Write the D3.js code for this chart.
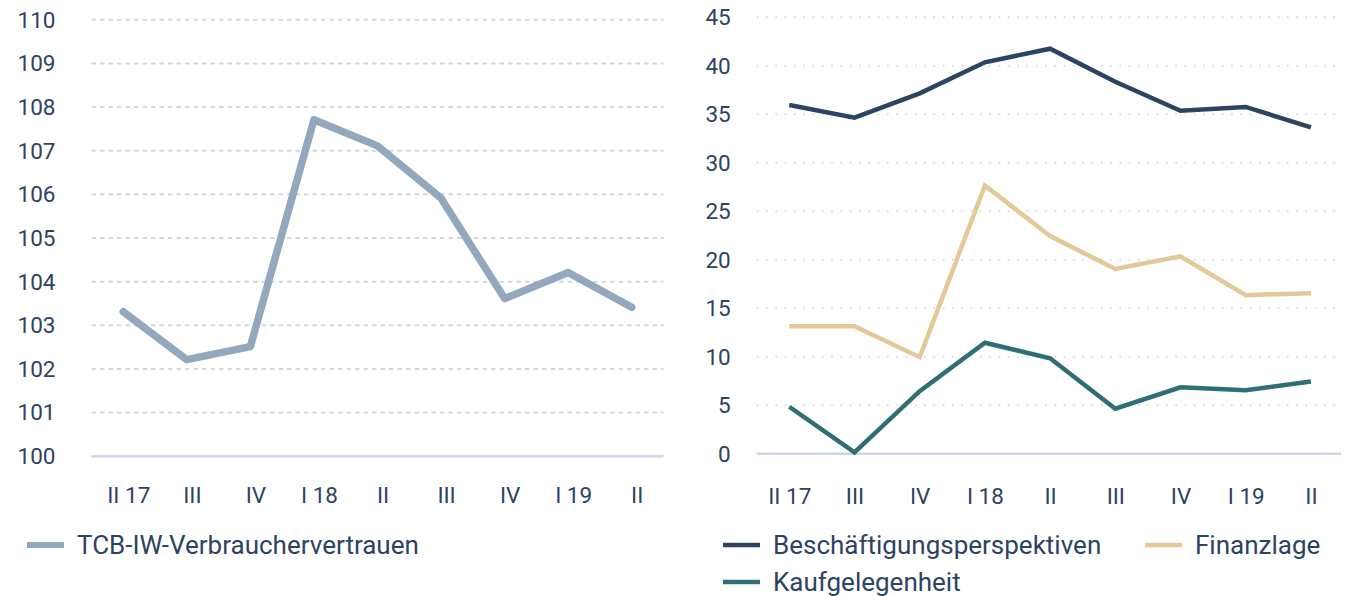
<!DOCTYPE html>
<html><head><meta charset="utf-8">
<script src="https://cdn.jsdelivr.net/npm/d3@7"></script>
<style>
html,body{margin:0;padding:0;background:#fff;}
svg{display:block;font-family:Roboto,"Noto Sans",sans-serif;}
</style></head>
<body>
<svg id="chart" width="1346" height="596"></svg>
<script>
const quarters = ["II 17","III","IV","I 18","II","III","IV","I 19","II"];
const leftTicks = [100,101,102,103,104,105,106,107,108,109,110];
const rightTicks = [0,5,10,15,20,25,30,35,40,45];
const vertrauen = [103.3,102.2,102.5,107.7,107.1,105.9,103.6,104.2,103.4];
const beschaeftigung = [35.9,34.6,37.1,40.3,41.7,38.3,35.3,35.7,33.6];
const finanzlage = [13.1,13.1,9.9,27.6,22.4,19.0,20.3,16.3,16.5];
const kaufgelegenheit = [4.8,0.1,6.4,11.4,9.8,4.6,6.8,6.5,7.4];
const leftSeries = [{name:"TCB-IW-Verbrauchervertrauen", values:vertrauen, color:"#93a8bc"}];
const rightSeries = [
  {name:"Beschäftigungsperspektiven", values:beschaeftigung, color:"#2c4461"},
  {name:"Finanzlage", values:finanzlage, color:"#e3c898"},
  {name:"Kaufgelegenheit", values:kaufgelegenheit, color:"#2f6f74"}
];

const TEXT = "#2d4362";
const svg = d3.select("#chart");
const idx = quarters.map((d,i)=>i);

function panel(opts){
  const g = svg.append("g");
  const x = d3.scalePoint().domain(idx).range([opts.x0, opts.x1]).padding(0.5);
  const y = d3.scaleLinear().domain(opts.domain).range([opts.yb, opts.yt]);
  // grid
  const grid = g.append("g").attr("transform",`translate(${opts.x0},0)`)
    .call(d3.axisLeft(y).tickValues(opts.ticks).tickSize(-(opts.gx1-opts.x0)).tickPadding(opts.tickPad).tickFormat(d3.format("d")));
  grid.select(".domain").remove();
  grid.selectAll(".tick line")
    .attr("stroke", d => d===opts.domain[0] ? "#cbd6ea" : opts.gridColor)
    .attr("stroke-width", d => d===opts.domain[0] ? 2.5 : opts.gridWidth)
    .attr("stroke-dasharray", d => d===opts.domain[0] ? null : opts.dash);
  grid.selectAll(".tick text").attr("fill",TEXT).attr("font-size",opts.fs).attr("dy","0.35em")
    .attr("font-family","Roboto, sans-serif");
  // x axis
  const xa = g.append("g").attr("transform",`translate(0,${opts.yb})`)
    .call(d3.axisBottom(x).tickSize(0).tickPadding(opts.xPad).tickFormat(i=>quarters[i]));
  xa.select(".domain").remove();
  xa.selectAll(".tick text").attr("fill",TEXT).attr("font-size",opts.fs).attr("dx",opts.xdx)
    .attr("font-family","Roboto, sans-serif");
  // lines
  const line = d3.line().x((d,i)=>x(i)).y(d=>y(d));
  opts.series.forEach(s=>{
    g.append("path").datum(s.values).attr("d",line).attr("fill","none")
      .attr("stroke",s.color).attr("stroke-width",opts.lw)
      .attr("stroke-linecap",opts.cap).attr("stroke-linejoin",opts.join);
  });
  return g;
}

panel({x0:91.5,x1:663.5,gx1:663.5,yb:455.7,yt:19.3,domain:[100,110],ticks:leftTicks,
  gridColor:"#cfd9e3",gridWidth:2,dash:"4.5,4",tickPad:36,fs:22.5,xPad:31,xdx:5,
  series:leftSeries,lw:7.5,cap:"round",join:"round"});
panel({x0:756.7,x1:1343.5,gx1:1341,yb:453.3,yt:16.7,domain:[0,45],ticks:rightTicks,
  gridColor:"#dadee4",gridWidth:2,dash:"1.8,7.5",tickPad:26,fs:22.5,xPad:35,xdx:0,
  series:rightSeries,lw:4.5,cap:"butt",join:"miter"});

// legends
const legendItems = [
  {s:leftSeries[0], x:27, y:545, w:6},
  {s:rightSeries[0], x:723, y:545, w:4.5},
  {s:rightSeries[1], x:1145, y:545, w:4.5},
  {s:rightSeries[2], x:723, y:582, w:4.5}
];
const lg = svg.append("g");
legendItems.forEach(it=>{
  lg.append("line").attr("x1",it.x).attr("x2",it.x+37).attr("y1",it.y).attr("y2",it.y)
    .attr("stroke",it.s.color).attr("stroke-width",it.w);
  lg.append("text").attr("x",it.x+50).attr("y",it.y+8.5).text(it.s.name)
    .attr("fill",TEXT).attr("font-size",26).attr("font-family","Roboto, sans-serif");
});
</script>
</body></html>
